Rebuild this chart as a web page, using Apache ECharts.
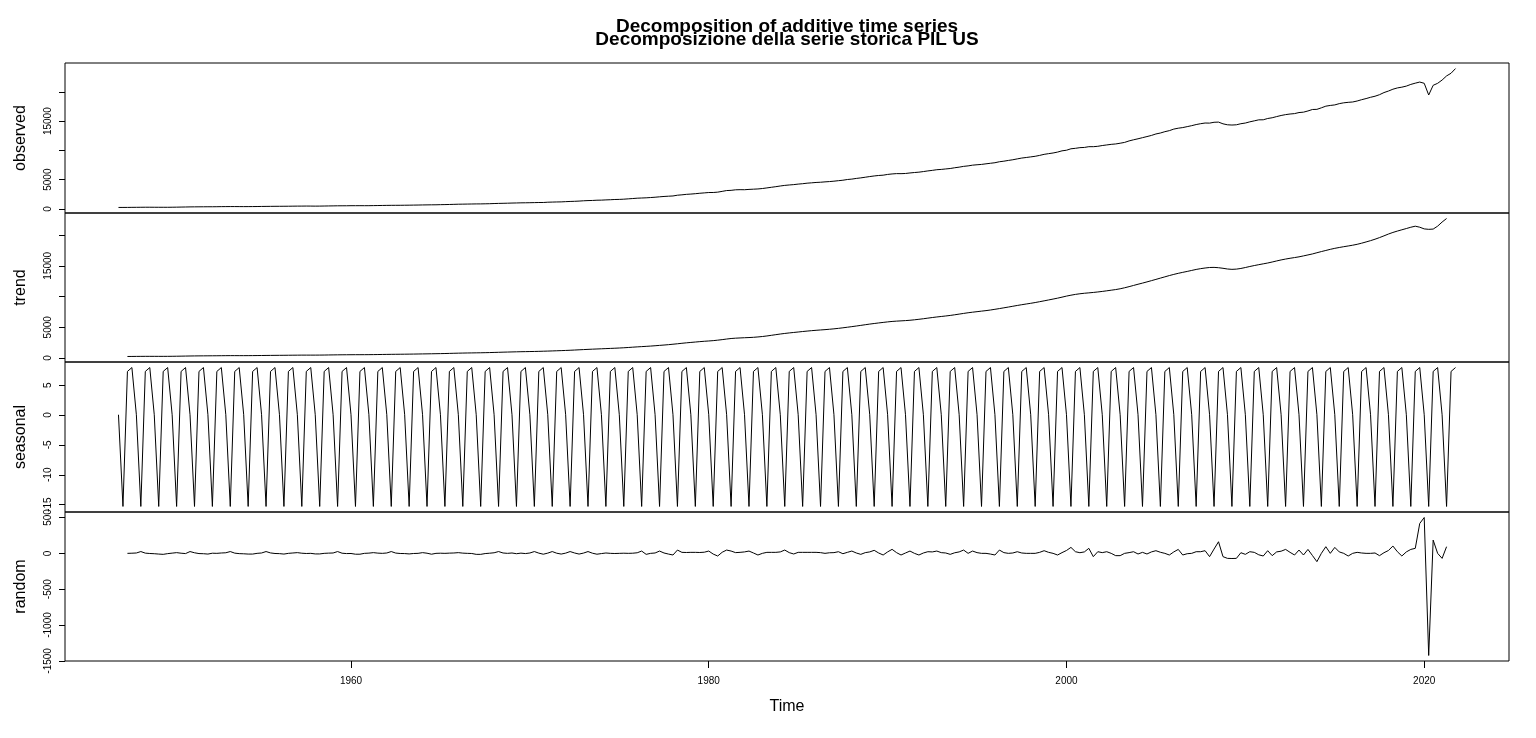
<!DOCTYPE html>
<html>
<head>
<meta charset="utf-8">
<title>Decomposizione della serie storica PIL US</title>
<script src="https://cdn.jsdelivr.net/npm/echarts@6/dist/echarts.min.js"></script>
<style>
html, body {
  margin: 0;
  padding: 0;
  background: #fff;
}
#myChart {
  width: 1536px;
  height: 738px;
}
</style>
</head>
<body>
<div id="myChart"></div>
<script>
// serie trimestrale, dal 1947 Q1
const startYear = 1947
const freq = 4

const observed = [
  243.2, 246.0, 249.6, 259.7,
  265.7, 272.6, 279.2, 280.4,
  275.0, 271.4, 273.0, 271.0,
  281.2, 290.7, 308.1, 319.9,
  336.0, 344.1, 351.3, 356.2,
  360.0, 361.4, 368.1, 381.2,
  388.5, 392.3, 391.7, 386.5,
  385.9, 386.7, 391.6, 400.3,
  413.9, 422.0, 430.8, 437.8,
  440.5, 446.8, 452.0, 461.3,
  470.6, 472.8, 480.3, 475.7,
  468.4, 472.8, 486.7, 500.4,
  511.1, 524.2, 525.2, 529.4,
  543.3, 542.6, 546.0, 541.1,
  545.9, 557.4, 568.2, 581.6,
  595.2, 602.6, 609.6, 613.1,
  622.7, 631.8, 645.0, 654.8,
  671.1, 680.8, 692.8, 698.3,
  719.2, 732.3, 750.6, 773.1,
  797.3, 807.2, 820.6, 834.9,
  846.0, 851.1, 866.6, 883.1,
  911.2, 936.3, 952.3, 970.1,
  995.4, 1011.4, 1032.0, 1040.7,
  1053.5, 1070.1, 1088.5, 1091.1,
  1137.8, 1159.4, 1180.3, 1193.7,
  1233.8, 1270.1, 1293.8, 1332.0,
  1380.7, 1417.6, 1436.8, 1479.6,
  1494.7, 1534.2, 1563.5, 1603.0,
  1619.6, 1656.4, 1713.8, 1765.9,
  1824.5, 1856.9, 1890.5, 1938.4,
  1992.5, 2060.2, 2122.8, 2168.8,
  2208.7, 2336.6, 2398.9, 2482.2,
  2531.6, 2595.9, 2670.4, 2730.7,
  2796.5, 2799.9, 2860.0, 2993.5,
  3131.8, 3167.3, 3261.2, 3283.5,
  3273.8, 3331.2, 3367.1, 3407.8,
  3480.3, 3583.8, 3692.3, 3796.1,
  3912.8, 4015.0, 4087.4, 4147.6,
  4237.0, 4302.3, 4394.6, 4453.1,
  4516.3, 4555.2, 4619.6, 4669.4,
  4736.2, 4821.5, 4900.5, 5022.7,
  5090.6, 5207.7, 5299.5, 5412.7,
  5527.4, 5628.4, 5711.6, 5763.4,
  5890.8, 5974.7, 6029.5, 6023.3,
  6054.9, 6143.6, 6218.4, 6279.3,
  6380.8, 6492.3, 6586.5, 6697.6,
  6748.2, 6829.6, 6904.2, 7032.8,
  7136.3, 7269.8, 7352.3, 7476.7,
  7545.3, 7604.9, 7706.5, 7799.5,
  7893.1, 8061.5, 8159.0, 8287.1,
  8402.1, 8551.9, 8691.8, 8788.3,
  8889.7, 8994.7, 9146.5, 9325.7,
  9447.1, 9557.0, 9712.3, 9926.1,
  10031.0, 10278.3, 10357.4, 10472.3,
  10508.1, 10638.4, 10639.5, 10701.3,
  10834.4, 10934.8, 11037.1, 11103.8,
  11230.1, 11370.7, 11625.1, 11816.8,
  11988.4, 12181.4, 12367.7, 12562.2,
  12813.7, 12974.1, 13205.4, 13381.6,
  13648.9, 13799.8, 13908.5, 14066.4,
  14233.2, 14422.3, 14569.7, 14685.3,
  14668.4, 14813.0, 14843.0, 14549.9,
  14383.9, 14340.4, 14384.1, 14566.5,
  14681.1, 14888.6, 15057.7, 15230.2,
  15238.4, 15461.0, 15587.1, 15785.3,
  15973.9, 16121.9, 16227.9, 16297.3,
  16475.4, 16541.4, 16749.3, 16999.9,
  17025.2, 17285.6, 17569.4, 17692.2,
  17783.6, 17998.3, 18141.9, 18222.8,
  18281.6, 18450.1, 18675.3, 18869.4,
  19087.6, 19269.4, 19531.0, 19894.8,
  20155.5, 20470.2, 20687.3, 20819.3,
  21001.6, 21289.3, 21505.0, 21694.5,
  21481.4, 19477.4, 21138.6, 21477.6,
  22038.2, 22740.9, 23202.3, 24002.8
]

// media mobile centrata, parte dal 1947 Q3
const trend = [
  252.4, 258.6,
  265.6, 271.9, 275.6, 276.7,
  275.7, 273.8, 273.4, 276.6,
  283.4, 293.9, 306.8, 320.4,
  332.4, 342.4, 349.9, 355.1,
  359.3, 364.6, 371.2, 378.7,
  385.5, 389.1, 389.4, 388.4,
  387.7, 389.4, 394.6, 402.5,
  411.9, 421.4, 429.5, 435.9,
  441.6, 447.2, 453.9, 460.9,
  467.7, 473.1, 474.6, 474.3,
  475.1, 479.0, 487.4, 499.2,
  510.4, 518.9, 526.5, 532.8,
  537.7, 541.8, 543.6, 545.8,
  550.4, 558.2, 569.4, 581.3,
  592.1, 601.2, 608.6, 615.7,
  623.7, 633.4, 644.6, 656.8,
  668.9, 680.3, 691.8, 704.2,
  717.9, 734.5, 753.6, 772.7,
  790.8, 807.3, 821.1, 832.7,
  843.9, 855.7, 869.9, 888.7,
  910.0, 931.6, 953.0, 972.9,
  992.3, 1011.1, 1027.1, 1041.7,
  1056.1, 1069.5, 1086.3, 1108.0,
  1130.7, 1155.0, 1179.8, 1205.6,
  1233.7, 1265.1, 1300.8, 1337.6,
  1373.9, 1410.2, 1442.9, 1471.8,
  1502.2, 1533.4, 1564.5, 1595.4,
  1629.4, 1668.6, 1714.5, 1765.2,
  1812.4, 1856.0, 1898.6, 1945.0,
  1999.4, 2057.3, 2113.1, 2174.7,
  2243.7, 2317.4, 2397.0, 2469.7,
  2536.1, 2601.1, 2665.3, 2723.9,
  2773.1, 2829.6, 2904.4, 2992.2,
  3088.3, 3174.7, 3228.7, 3266.9,
  3300.7, 3329.4, 3370.8, 3428.2,
  3500.4, 3589.6, 3692.2, 3800.2,
  3903.4, 3996.8, 4081.2, 4157.7,
  4232.0, 4308.6, 4381.7, 4448.2,
  4507.9, 4563.1, 4617.6, 4678.4,
  4746.8, 4826.1, 4914.5, 5007.1,
  5105.3, 5203.9, 5307.2, 5414.4,
  5518.5, 5613.9, 5703.1, 5791.8,
  5874.9, 5947.1, 6000.1, 6041.7,
  6086.4, 6142.1, 6214.8, 6299.1,
  6388.7, 6487.0, 6585.2, 6673.3,
  6755.2, 6836.8, 6927.2, 7030.8,
  7141.8, 7253.3, 7359.9, 7452.9,
  7539.1, 7623.7, 7707.5, 7808.1,
  7921.7, 8039.2, 8163.8, 8288.7,
  8416.6, 8545.9, 8669.5, 8785.8,
  8898.0, 9022.0, 9158.8, 9298.8,
  9439.8, 9585.6, 9733.6, 9896.8,
  10067.6, 10216.5, 10344.4, 10449.0,
  10529.3, 10593.2, 10662.6, 10740.5,
  10827.2, 10927.2, 11027.0, 11130.9,
  11258.9, 11421.6, 11605.5, 11801.6,
  11995.8, 12181.8, 12378.1, 12580.3,
  12784.1, 12991.3, 13198.1, 13405.7,
  13596.8, 13770.3, 13928.9, 14079.8,
  14240.3, 14400.3, 14532.0, 14635.3,
  14718.3, 14735.5, 14683.0, 14588.4,
  14471.9, 14416.7, 14455.9, 14561.6,
  14714.3, 14881.4, 15034.1, 15175.3,
  15313.0, 15448.6, 15609.9, 15784.4,
  15947.2, 16091.3, 16217.9, 16333.1,
  16450.7, 16603.7, 16760.2, 16922.0,
  17117.5, 17306.6, 17487.9, 17671.8,
  17832.4, 17970.3, 18098.9, 18217.6,
  18340.8, 18488.3, 18669.9, 18873.0,
  19082.4, 19317.5, 19579.2, 19862.8,
  20157.4, 20417.5, 20638.8, 20847.0,
  21051.6, 21263.2, 21432.6, 21266.1,
  20993.8, 20920.9, 20963.4, 21440.9,
  22106.8, 22680.4
]

const seasonal = [
  0.05, -15.3, 7.3, 7.95,  0.05, -15.3, 7.3, 7.95,  0.05, -15.3, 7.3, 7.95,
  0.05, -15.3, 7.3, 7.95,  0.05, -15.3, 7.3, 7.95,  0.05, -15.3, 7.3, 7.95,
  0.05, -15.3, 7.3, 7.95,  0.05, -15.3, 7.3, 7.95,  0.05, -15.3, 7.3, 7.95,
  0.05, -15.3, 7.3, 7.95,  0.05, -15.3, 7.3, 7.95,  0.05, -15.3, 7.3, 7.95,
  0.05, -15.3, 7.3, 7.95,  0.05, -15.3, 7.3, 7.95,  0.05, -15.3, 7.3, 7.95,
  0.05, -15.3, 7.3, 7.95,  0.05, -15.3, 7.3, 7.95,  0.05, -15.3, 7.3, 7.95,
  0.05, -15.3, 7.3, 7.95,  0.05, -15.3, 7.3, 7.95,  0.05, -15.3, 7.3, 7.95,
  0.05, -15.3, 7.3, 7.95,  0.05, -15.3, 7.3, 7.95,  0.05, -15.3, 7.3, 7.95,
  0.05, -15.3, 7.3, 7.95,  0.05, -15.3, 7.3, 7.95,  0.05, -15.3, 7.3, 7.95,
  0.05, -15.3, 7.3, 7.95,  0.05, -15.3, 7.3, 7.95,  0.05, -15.3, 7.3, 7.95,
  0.05, -15.3, 7.3, 7.95,  0.05, -15.3, 7.3, 7.95,  0.05, -15.3, 7.3, 7.95,
  0.05, -15.3, 7.3, 7.95,  0.05, -15.3, 7.3, 7.95,  0.05, -15.3, 7.3, 7.95,
  0.05, -15.3, 7.3, 7.95,  0.05, -15.3, 7.3, 7.95,  0.05, -15.3, 7.3, 7.95,
  0.05, -15.3, 7.3, 7.95,  0.05, -15.3, 7.3, 7.95,  0.05, -15.3, 7.3, 7.95,
  0.05, -15.3, 7.3, 7.95,  0.05, -15.3, 7.3, 7.95,  0.05, -15.3, 7.3, 7.95,
  0.05, -15.3, 7.3, 7.95,  0.05, -15.3, 7.3, 7.95,  0.05, -15.3, 7.3, 7.95,
  0.05, -15.3, 7.3, 7.95,  0.05, -15.3, 7.3, 7.95,  0.05, -15.3, 7.3, 7.95,
  0.05, -15.3, 7.3, 7.95,  0.05, -15.3, 7.3, 7.95,  0.05, -15.3, 7.3, 7.95,
  0.05, -15.3, 7.3, 7.95,  0.05, -15.3, 7.3, 7.95,  0.05, -15.3, 7.3, 7.95,
  0.05, -15.3, 7.3, 7.95,  0.05, -15.3, 7.3, 7.95,  0.05, -15.3, 7.3, 7.95,
  0.05, -15.3, 7.3, 7.95,  0.05, -15.3, 7.3, 7.95,  0.05, -15.3, 7.3, 7.95,
  0.05, -15.3, 7.3, 7.95,  0.05, -15.3, 7.3, 7.95,  0.05, -15.3, 7.3, 7.95,
  0.05, -15.3, 7.3, 7.95,  0.05, -15.3, 7.3, 7.95,  0.05, -15.3, 7.3, 7.95,
  0.05, -15.3, 7.3, 7.95,  0.05, -15.3, 7.3, 7.95,  0.05, -15.3, 7.3, 7.95,
  0.05, -15.3, 7.3, 7.95,  0.05, -15.3, 7.3, 7.95,  0.05, -15.3, 7.3, 7.95
]

// residui, dal 1947 Q3
const random = [
  0, 2,
  5, 25, 3, -2,
  -5, -10, -14, -4,
  3, 10, 2, -3,
  25, 8, -3, -5,
  -10, 2, 0, 5,
  8, 25, 3, -4,
  -6, -10, -10, 0,
  5, 25, 6, -2,
  -4, -10, 0, 5,
  10, 2, -2, 0,
  -8, -8, 0, 3,
  5, 25, 2, -3,
  -2, -12, -12, 0,
  3, 10, 3, 0,
  5, 25, 4, -2,
  -3, -8, -2, 0,
  10, 2, -12, 0,
  2, 0, 3, 5,
  10, 3, 0, -2,
  -14, -14, -3, 2,
  8, 25, 5, 0,
  5, -5, 3, -3,
  5, 25, 3, -12,
  3, 25, 2, -10,
  3, 25, 5, -10,
  4, 25, 2, -12,
  -3, 5, 0, -2,
  0, 2, 0, 2,
  8, 32, -14, 0,
  5, 32, 5, -10,
  -23, 46, 14, 12,
  14, 14, 12, 16,
  32, -10, -37, 15,
  46, 32, 10, 14,
  20, 32, 5, -23,
  0, 14, 14, 14,
  20, 46, 10, -9,
  14, 14, 14, 14,
  14, 10, 0, 8,
  10, 23, -5, 14,
  32, 5, -14, 10,
  20, 42, 5, -23,
  20, 56, 10, -23,
  5, 32, 0, -23,
  5, 23, 20, 32,
  10, 5, -14, 8,
  20, 46, 0, 32,
  10, 0, 0, -10,
  -23, 46, 10, 0,
  5, 23, 5, 0,
  0, 0, 14, 37,
  14, 0, -23, 10,
  40, 83, 23, 9,
  20, 70, -46, 23,
  10, 23, 0, -32,
  -32, 0, 10, 23,
  -9, 14, -9, 20,
  37, 15, 0, -23,
  20, 55, -23, -5,
  0, 23, 23, 37,
  -46, 60, 162, -46,
  -70, -72, -70, 9,
  -14, 23, 14, -20,
  -37, 37, -32, 20,
  30, 55, 14, -23,
  46, -23, 55, -30,
  -116, 0, 93, 0,
  83, 20, 0, -37,
  0, 14, 5, 0,
  0, 5, -32, 9,
  40, 102, 23, -37,
  20, 55, 70, 417,
  500, -1425, 185, 0,
  -70, 93
]

const yearTicks = [1960, 1980, 2000, 2020]
const levelTicks = [0, 5000, 10000, 15000, 20000]
const levelLabels = [0, 5000, 15000]
const seasonalTicks = [-15, -10, -5, 0, 5]
const randomTicks = [-1500, -1000, -500, 0, 500]

const FONT = 'Liberation Sans, Arial, Helvetica, sans-serif'

// coppie (tempo, valore) per l'asse x numerico
function toPairs (values, offset) {
  return values.map((v, i) => [startYear + (i + offset) / freq, v])
}

// range con il 4% di margine come in R
function padRange (values) {
  let lo = Math.min(...values)
  let hi = Math.max(...values)
  let pad = (hi - lo) * 0.04
  return [lo - pad, hi + pad]
}

// niente separatore delle migliaia
const plain = v => String(v)

const xRange = padRange([startYear, startYear + (observed.length - 1) / freq])

const grids = [
  { left: 65, right: 27, top: 63, height: 150 },
  { left: 65, right: 27, top: 213, height: 149 },
  { left: 65, right: 27, top: 362, height: 150 },
  { left: 65, right: 27, top: 512, height: 149 }
].map(g => Object.assign(g, { show: true, borderColor: '#000', borderWidth: 1 }))

function xAxisFor (idx, last) {
  return {
    type: 'value',
    gridIndex: idx,
    position: 'bottom',
    min: xRange[0],
    max: xRange[1],
    show: last,
    splitLine: { show: false },
    axisLine: { show: false, onZero: false },
    axisTick: {
      show: last,
      inside: false,
      customValues: yearTicks,
      length: 7,
      lineStyle: { color: '#000' }
    },
    axisLabel: {
      show: last,
      customValues: yearTicks,
      formatter: plain,
      color: '#000',
      fontSize: 10,
      fontFamily: FONT,
      margin: 15
    },
    name: last ? 'Time' : '',
    nameLocation: 'middle',
    nameGap: 38,
    nameTextStyle: { color: '#000', fontSize: 16, fontFamily: FONT }
  }
}

function yAxisFor (idx, name, values, ticks, labels) {
  let r = padRange(values)
  return {
    type: 'value',
    gridIndex: idx,
    position: 'left',
    min: r[0],
    max: r[1],
    name: name,
    nameLocation: 'middle',
    nameGap: 36,
    nameTextStyle: { color: '#000', fontSize: 16, fontFamily: FONT },
    splitLine: { show: false },
    axisLine: { show: false, onZero: false },
    axisTick: {
      show: true,
      customValues: ticks,
      length: 6,
      lineStyle: { color: '#000' }
    },
    axisLabel: {
      customValues: labels,
      formatter: plain,
      rotate: 90,
      color: '#000',
      fontSize: 10,
      fontFamily: FONT,
      margin: 12
    }
  }
}

function lineSeries (idx, values, offset) {
  return {
    type: 'line',
    xAxisIndex: idx,
    yAxisIndex: idx,
    data: toPairs(values, offset),
    showSymbol: false,
    symbol: 'none',
    silent: true,
    lineStyle: { color: '#000', width: 1 }
  }
}

let myChart = echarts.init(document.getElementById('myChart'), null, { renderer: 'canvas' })
myChart.setOption({
  animation: false,
  backgroundColor: '#fff',
  grid: grids,
  xAxis: [xAxisFor(0, false), xAxisFor(1, false), xAxisFor(2, false), xAxisFor(3, true)],
  yAxis: [
    yAxisFor(0, 'observed', observed, levelTicks, levelLabels),
    yAxisFor(1, 'trend', trend, levelTicks, levelLabels),
    yAxisFor(2, 'seasonal', seasonal, seasonalTicks, seasonalTicks),
    yAxisFor(3, 'random', random, randomTicks, randomTicks)
  ],
  series: [
    lineSeries(0, observed, 0),
    lineSeries(1, trend, 2),
    lineSeries(2, seasonal, 0),
    lineSeries(3, random, 2)
  ],
  graphic: [
    {
      type: 'text',
      x: 787,
      y: 27,
      style: {
        text: 'Decomposition of additive time series',
        font: 'bold 19px ' + FONT,
        fill: '#000',
        align: 'center',
        verticalAlign: 'middle',
        textAlign: 'center',
        textVerticalAlign: 'middle'
      }
    },
    {
      type: 'text',
      x: 787,
      y: 40,
      style: {
        text: 'Decomposizione della serie storica PIL US',
        font: 'bold 19px ' + FONT,
        fill: '#000',
        align: 'center',
        verticalAlign: 'middle',
        textAlign: 'center',
        textVerticalAlign: 'middle'
      }
    }
  ]
})
</script>
</body>
</html>
